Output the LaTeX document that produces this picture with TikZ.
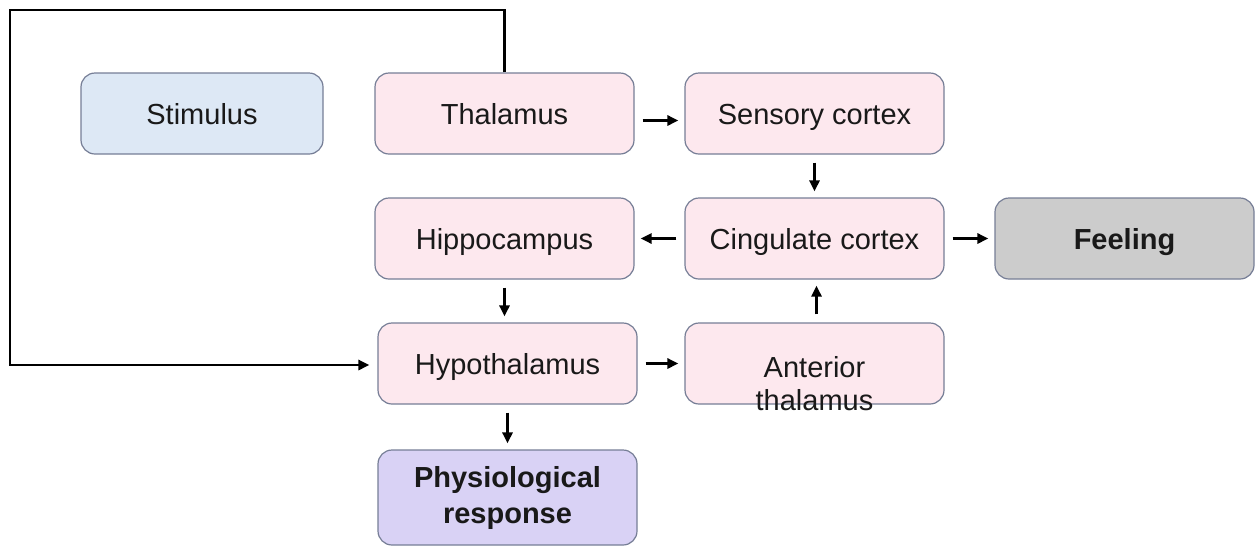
\documentclass[tikz,border=0pt]{standalone}
\usepackage{fontspec}
\setmainfont{Liberation Sans}
\usetikzlibrary{arrows.meta}
\definecolor{pinkfill}{RGB}{253,232,238}
\definecolor{bluefill}{RGB}{221,232,245}
\definecolor{grayfill}{RGB}{204,204,204}
\definecolor{lavfill}{RGB}{217,210,245}
\definecolor{boxline}{RGB}{118,126,150}
\tikzset{
  box/.style={draw=boxline, line width=0.6pt, rounded corners=7pt, minimum width=129.5pt,
    minimum height=40.5pt, inner sep=0pt, align=center,
    font=\fontsize{14.5}{16.5}\selectfont, text=black!90, text height=11pt, text depth=0.5pt},
  pinkbox/.style={box, fill=pinkfill},
  arr/.style={line width=1.4pt, -{Triangle[length=5.5pt,width=5pt]}, shorten <=4pt, shorten >=3pt},
  loopline/.style={line width=1.4pt, -{Triangle[length=5.5pt,width=5pt]}}
}
\begin{document}
\begin{tikzpicture}[x=0.5pt,y=-0.5pt]
\useasboundingbox (0,0) rectangle (1256,547);
\node[box, fill=bluefill, minimum width=121pt] (stim) at (202,113.5) {Stimulus};
\node[pinkbox] (thal) at (504.5,113.5) {Thalamus};
\node[pinkbox] (sens) at (814.5,113.5) {Sensory cortex};
\node[pinkbox] (hipp) at (504.5,238.5) {Hippocampus};
\node[pinkbox] (cing) at (814.5,238.5) {Cingulate cortex};
\node[box, fill=grayfill, font=\fontsize{14.5}{16.5}\selectfont\bfseries] (feel) at (1124.5,238.5) {Feeling};
\node[pinkbox, label={[align=center, font=\fontsize{14.5}{16.5}\selectfont, text=black!90, yshift=-10pt]center:Anterior\\thalamus}] (ant) at (814.5,363.5) {};
\node[pinkbox] (hypo) at (507.5,363.5) {Hypothalamus};
\node[box, fill=lavfill, minimum height=47.5pt, text height=, text depth=, font=\fontsize{14.5}{18}\selectfont\bfseries] (phys) at (507.5,497.5) {Physiological\\response};

\draw[arr] ([yshift=-3.5pt]thal.east) -- ([yshift=-3.5pt]sens.west);
\draw[arr] (sens) -- (cing);
\draw[arr] (cing) -- (hipp);
\draw[arr] (cing) -- (feel);
\draw[arr] (hipp.south) -- (hipp.south |- hypo.north);
\draw[arr] (hypo) -- (ant);
\draw[arr] ([xshift=1pt]ant.north) -- ([xshift=1pt]cing.south);
\draw[arr] (hypo.south) -- (hypo.south |- phys.north);

\coordinate (c1) at (504.5,10);
\coordinate (c2) at (10,10);
\coordinate (c3) at (10,365);
\draw[loopline, shorten >=4pt] (thal.north) -- (c1) -- (c2) -- (c3) -- (c3 -| hypo.west);
\end{tikzpicture}
\end{document}
